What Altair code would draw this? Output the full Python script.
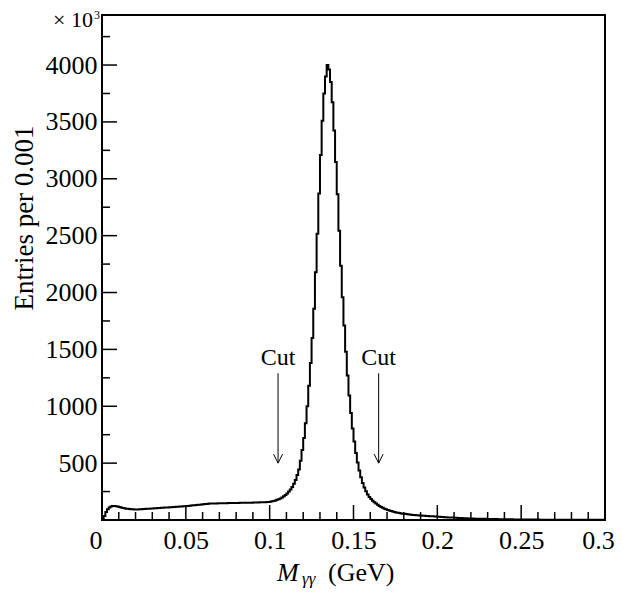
import altair as alt
import pandas as pd

# ---------------- data ----------------
BIN_WIDTH = 0.001
X_DOMAIN = [0.0, 0.3]
Y_DOMAIN = [0, 4440]

# entries per 0.001 GeV bin (x 10^3), bins 0.000 ... 0.299
counts = [
    5, 35, 70, 95, 110, 118, 122, 123, 121, 118,
    114, 110, 106, 103, 100, 98, 96, 95, 94, 93,
    93, 93, 94, 95, 96, 97, 98, 99, 100, 101,
    102, 103, 104, 105, 106, 107, 108, 109, 110, 111,
    112, 113, 114, 115, 116, 117, 118, 119, 120, 121,
    123, 124, 126, 127, 129, 130, 132, 133, 135, 136,
    138, 140, 141, 143, 144, 145, 145, 146, 146, 147,
    147, 147, 148, 148, 148, 149, 149, 149, 150, 150,
    150, 150, 151, 151, 151, 151, 152, 152, 152, 152,
    153, 153, 154, 154, 155, 155, 156, 157, 158, 159,
    161, 164, 168, 172, 177, 183, 190, 198, 208, 220,
    234, 250, 268, 290, 318, 352, 395, 445, 520, 615,
    720, 850, 1000, 1180, 1380, 1600, 1857, 2178, 2517, 2870,
    3210, 3510, 3750, 3900, 4000, 3960, 3850, 3673, 3424, 3147,
    2863, 2543, 2236, 1958, 1710, 1480, 1270, 1095, 940, 805,
    690, 590, 505, 435, 375, 325, 285, 252, 225, 203,
    185, 170, 157, 145, 134, 124, 115, 107, 100, 94,
    89, 84, 79, 75, 71, 67, 64, 61, 58, 56,
    54, 52, 50, 48, 47, 45, 44, 42, 41, 40,
    39, 38, 37, 36, 35, 34, 33, 32, 31, 30,
    29, 28, 27, 26, 25, 24, 23, 22, 21, 21,
    20, 19, 18, 18, 17, 16, 15, 15, 14, 14,
    13, 13, 12, 12, 11, 11, 10, 10, 10, 9,
    9, 9, 8, 8, 8, 8, 7, 7, 7, 7,
    6, 6, 6, 6, 6, 5, 5, 5, 5, 5,
    5, 5, 4, 4, 4, 4, 4, 4, 4, 4,
    4, 3, 3, 3, 3, 3, 3, 3, 3, 3,
    3, 3, 3, 3, 3, 2, 2, 2, 2, 2,
    2, 2, 2, 2, 2, 2, 2, 2, 2, 2,
    2, 2, 2, 2, 2, 2, 2, 2, 2, 2,
]

x_major_ticks = [0, 0.05, 0.1, 0.15, 0.2, 0.25, 0.3]
x_minor_ticks = [0.01, 0.02, 0.03, 0.04, 0.06, 0.07, 0.08, 0.09,
                 0.11, 0.12, 0.13, 0.14, 0.16, 0.17, 0.18, 0.19,
                 0.21, 0.22, 0.23, 0.24, 0.26, 0.27, 0.28, 0.29]
y_major_ticks = [500, 1000, 1500, 2000, 2500, 3000, 3500, 4000]
y_minor_ticks = [250, 750, 1250, 1750, 2250, 2750, 3250, 3750, 4250]

cut_x = [0.105, 0.165]
cut_label = "Cut"
cut_text_y = 1360
cut_arrow_top = 1290
cut_arrow_tip = 500

y_title = "Entries per 0.001"
x_title_main = "M"
x_title_sub = "γγ"
x_title_unit = "(GeV)"
multiplier = "× 10"
multiplier_exp = "3"

FONT = "Liberation Serif"
W, H = 503, 505

# ---------------- tables ----------------
edges = [i * BIN_WIDTH for i in range(len(counts))] + [X_DOMAIN[1]]
hist_df = pd.DataFrame({"x": edges, "y": counts + [counts[-1]]})

xs = alt.Scale(domain=X_DOMAIN, nice=False, zero=False)
ys = alt.Scale(domain=Y_DOMAIN, nice=False, zero=False)

hist = alt.Chart(hist_df).mark_line(
    interpolate="step-after", color="black", strokeWidth=2, clip=True
).encode(
    x=alt.X("x:Q", scale=xs, title=None,
            axis=alt.Axis(values=x_major_ticks, format="~g", ticks=False, domain=False,
                          grid=False, labelPadding=7,
                          labelAlign={"condition": {"test": "datum.value == 0", "value": "right"},
                                      "value": "center"},
                          labelOffset={"condition": {"test": "datum.value >= 0.29", "value": -7},
                                       "value": 0})),
    y=alt.Y("y:Q", scale=ys, title=None,
            axis=alt.Axis(values=y_major_ticks, format="d", ticks=False, domain=False,
                          grid=False, labelPadding=5)),
)

def xticks(vals, length):
    return alt.Chart(pd.DataFrame({"v": vals})).mark_rule(color="black", strokeWidth=1.5).encode(
        x=alt.X("v:Q", scale=xs), y=alt.value(H), y2=alt.value(H - length))

def yticks(vals, length):
    return alt.Chart(pd.DataFrame({"v": vals})).mark_rule(color="black", strokeWidth=1.5).encode(
        y=alt.Y("v:Q", scale=ys), x=alt.value(0), x2=alt.value(length))

cut_df = pd.DataFrame({"x": cut_x, "label": [cut_label] * len(cut_x),
                       "top": [cut_arrow_top] * len(cut_x), "tip": [cut_arrow_tip] * len(cut_x),
                       "ty": [cut_text_y] * len(cut_x)})

cut_text = alt.Chart(cut_df).mark_text(font=FONT, fontSize=24, color="black",
                                       align="center", baseline="alphabetic").encode(
    x=alt.X("x:Q", scale=xs), y=alt.Y("ty:Q", scale=ys), text="label:N")
cut_shaft = alt.Chart(cut_df).mark_rule(color="black", strokeWidth=1).encode(
    x=alt.X("x:Q", scale=xs), y=alt.Y("top:Q", scale=ys), y2="tip:Q")
cut_head = alt.Chart(cut_df).mark_point(
    shape="M-0.5,-1L0,0L0.5,-1", filled=False, color="black", strokeWidth=1, size=324, opacity=1
).encode(x=alt.X("x:Q", scale=xs), y=alt.Y("tip:Q", scale=ys))

def label(text, x, y, size, style="normal", align="left", angle=0, baseline="alphabetic"):
    return alt.Chart(pd.DataFrame({"t": [text]})).mark_text(
        font=FONT, fontSize=size, fontStyle=style, color="black", align=align,
        baseline=baseline, angle=angle
    ).encode(x=alt.value(x), y=alt.value(y), text="t:N")

texts = [
    label(x_title_main, 175, 566, 26, style="italic"),
    label(x_title_sub, 200, 569, 17, style="italic"),
    label(x_title_unit, 226, 566, 26),
    label(y_title, -77, 203, 27, align="center", angle=270, baseline="middle"),
    label(multiplier, -9, 12, 22, align="right"),
    label(multiplier_exp, -8, 4, 12),
]

chart = alt.layer(
    hist,
    xticks(x_major_ticks, 15), xticks(x_minor_ticks, 8),
    yticks(y_major_ticks, 15), yticks(y_minor_ticks, 8),
    cut_shaft, cut_head, cut_text,
    *texts,
).properties(
    width=W, height=H,
    autosize=alt.AutoSizeParams(type="none"),
    padding={"left": 94, "top": 7, "right": 10, "bottom": 70},
    background="white",
).configure_view(
    stroke="black", strokeWidth=2
).configure_axis(
    labelFont=FONT, labelFontSize=26, labelColor="black"
)

chart.save("out.html", embed_options={"renderer": "svg", "actions": False})
